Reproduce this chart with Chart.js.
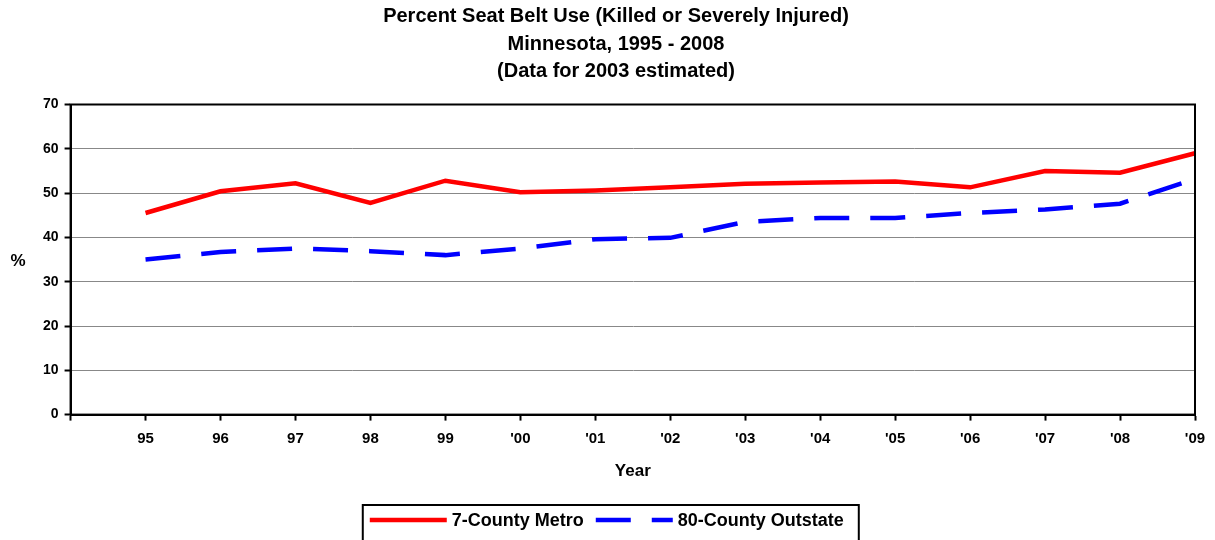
<!DOCTYPE html>
<html>
<head>
<meta charset="utf-8">
<script src="https://cdn.jsdelivr.net/npm/chart.js@4.4.0/dist/chart.umd.min.js"></script>
<style>
  html, body { margin: 0; padding: 0; background: #fff; }
  #wrap { width: 1215px; height: 540px; position: relative; }
</style>
</head>
<body>
<div id="wrap"><canvas id="c" width="1215" height="540"></canvas></div>
<script>
const titleLines = ['Percent Seat Belt Use (Killed or Severely Injured)', 'Minnesota, 1995 - 2008', '(Data for 2003 estimated)'];
const years = ['95', '96', '97', '98', '99', "'00", "'01", "'02", "'03", "'04", "'05", "'06", "'07", "'08", "'09"];
const metro = [45.5, 50.4, 52.2, 47.8, 52.8, 50.2, 50.6, 51.3, 52.1, 52.4, 52.6, 51.3, 55.0, 54.6, 59.0];
const outstate = [35.0, 36.7, 37.5, 36.9, 36.0, 37.5, 39.6, 39.9, 43.5, 44.4, 44.4, 45.5, 46.3, 47.6, 53.2];
const seriesNames = ['7-County Metro', '80-County Outstate'];
const yTicks = [0, 10, 20, 30, 40, 50, 60, 70];

const FONT = "'Liberation Sans', Arial, sans-serif";

const labels = [''].concat(years);

const framePlugin = {
  id: 'frame',
  afterDraw(chart) {
    const ctx = chart.ctx;
    const a = chart.chartArea;
    ctx.save();
    ctx.strokeStyle = '#000';
    ctx.lineWidth = 2;
    ctx.strokeRect(a.left, a.top, a.right - a.left, a.bottom - a.top);
    // "%" axis label, horizontal
    ctx.fillStyle = '#000';
    ctx.font = 'bold 17px ' + FONT;
    ctx.textAlign = 'center';
    ctx.textBaseline = 'middle';
    ctx.fillText('%', 18, (a.top + a.bottom) / 2 + 2);

    // legend
    const ds = chart.data.datasets;
    ctx.font = 'bold 18px ' + FONT;
    const sample = 77, padL = 7, gapT = 5, gapItem = 12, padR = 15;
    const widths = ds.map(d => ctx.measureText(d.label).width);
    const total = padL + padR + ds.length * (sample + gapT) + widths.reduce((s, w) => s + w, 0) + gapItem * (ds.length - 1);
    const cx = (a.left + a.right) / 2 - 22;
    const bx = cx - total / 2, by = 505, bh = 40;
    ctx.lineWidth = 2;
    ctx.strokeStyle = '#000';
    ctx.setLineDash([]);
    ctx.strokeRect(bx, by, total, bh);
    let x = bx + padL;
    const ly = 520;
    ds.forEach((d, i) => {
      ctx.save();
      ctx.strokeStyle = d.borderColor;
      ctx.lineWidth = d.borderWidth;
      ctx.setLineDash(d.borderDash || []);
      ctx.beginPath();
      ctx.moveTo(x, ly);
      ctx.lineTo(x + sample, ly);
      ctx.stroke();
      ctx.restore();
      x += sample + gapT;
      ctx.fillStyle = '#000';
      ctx.textAlign = 'left';
      ctx.textBaseline = 'middle';
      ctx.fillText(d.label, x, ly + 1);
      x += widths[i] + gapItem;
    });
    ctx.restore();
  }
};

new Chart(document.getElementById('c'), {
  type: 'line',
  data: {
    labels: labels,
    datasets: [
      {
        label: seriesNames[0],
        data: [null].concat(metro),
        borderColor: '#ff0000',
        backgroundColor: '#ff0000',
        borderWidth: 4.5,
        pointRadius: 0,
        tension: 0,
        fill: false
      },
      {
        label: seriesNames[1],
        data: [null].concat(outstate),
        borderColor: '#0000ff',
        backgroundColor: '#0000ff',
        borderWidth: 4.5,
        borderDash: [35, 21],
        borderCapStyle: 'butt',
        pointRadius: 0,
        tension: 0,
        fill: false
      }
    ]
  },
  options: {
    responsive: false,
    animation: false,
    devicePixelRatio: 1,
    layout: { padding: { left: 37, right: 20, top: 0, bottom: 58 } },
    plugins: {
      legend: { display: false },
      tooltip: { enabled: false },
      title: {
        display: true,
        text: titleLines,
        color: '#000',
        font: { family: FONT, size: 20, weight: 'bold', lineHeight: 1.375 },
        padding: { top: 3, bottom: 19 }
      }
    },
    scales: {
      x: {
        type: 'category',
        offset: false,
        grid: {
          drawOnChartArea: false,
          drawTicks: true,
          tickLength: 6,
          tickColor: '#000',
          tickWidth: 2
        },
        border: { color: '#000', width: 2 },
        ticks: {
          color: '#000',
          font: { family: FONT, size: 15, weight: 'bold' },
          padding: 9,
          maxRotation: 0,
          autoSkip: false
        },
        title: {
          display: true,
          text: 'Year',
          color: '#000',
          font: { family: FONT, size: 17, weight: 'bold' },
          padding: { top: 5, bottom: 0 }
        }
      },
      y: {
        min: 0,
        max: 70,
        afterBuildTicks(scale) { scale.ticks = yTicks.map(v => ({ value: v })); },
        grid: {
          color: '#888',
          lineWidth: 1,
          borderDash: [2, 1],
          drawTicks: true,
          tickLength: 6,
          tickColor: '#000',
          tickWidth: 2,
          tickBorderDash: []
        },
        border: { color: '#000', width: 2 },
        ticks: {
          color: '#000',
          font: { family: FONT, size: 14, weight: 'bold' },
          padding: 6
        }
      }
    }
  },
  plugins: [framePlugin]
});
</script>
</body>
</html>
